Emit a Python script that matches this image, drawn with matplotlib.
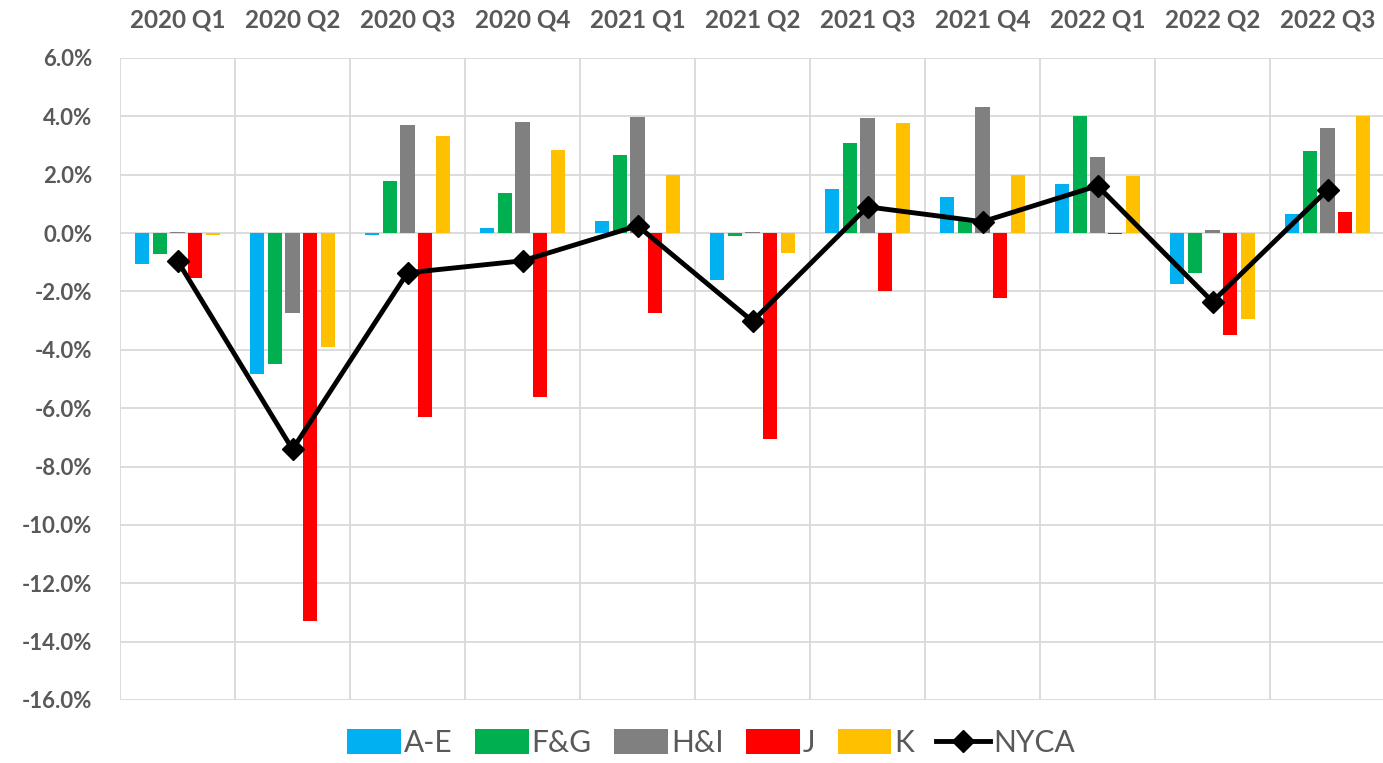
import matplotlib
matplotlib.use("Agg")
import matplotlib.pyplot as plt
import numpy as np
from matplotlib.ticker import FuncFormatter, FixedLocator

categories = ["2020 Q1", "2020 Q2", "2020 Q3", "2020 Q4", "2021 Q1", "2021 Q2",
              "2021 Q3", "2021 Q4", "2022 Q1", "2022 Q2", "2022 Q3"]
series_names = ["A-E", "F&G", "H&I", "J", "K"]
a_e = [-1.07, -4.82, -0.05, 0.19, 0.42, -1.62, 1.52, 1.24, 1.69, -1.76, 0.66]
f_g = [-0.70, -4.50, 1.79, 1.39, 2.66, -0.10, 3.09, 0.45, 4.02, -1.38, 2.80]
h_i = [0.05, -2.73, 3.69, 3.79, 3.97, 0.05, 3.95, 4.33, 2.60, 0.10, 3.61]
j_vals = [-1.53, -13.30, -6.30, -5.61, -2.75, -7.06, -1.99, -2.23, -0.03, -3.49, 0.71]
k_vals = [-0.08, -3.90, 3.34, 2.86, 2.00, -0.67, 3.78, 2.00, 1.96, -2.94, 4.02]
nyca = [-0.95, -7.41, -1.36, -0.95, 0.25, -3.02, 0.90, 0.39, 1.62, -2.35, 1.48]
colors = ["#00B0F0", "#00B050", "#808080", "#FF0000", "#FFC000"]

plt.rcParams['font.family'] = ['Lato', 'DejaVu Sans']
text_color = "#595959"

fig = plt.figure(figsize=(13.83, 7.63), dpi=100)
ax = fig.add_axes([120/1383, 1 - 700/763, 1265/1383, 642/763])

x = np.arange(len(categories))
pitch = 0.153
width = 0.122
all_series = [a_e, f_g, h_i, j_vals, k_vals]
handles = []
for i, (name, vals, c) in enumerate(zip(series_names, all_series, colors)):
    h = ax.bar(x + (i - 2) * pitch, vals, width=width, color=c, label=name, zorder=2)
    handles.append(h)

ln, = ax.plot(x, nyca, color="black", lw=3.5, marker="D", markersize=11, label="NYCA", zorder=3)
handles.append(ln)

ax.set_xlim(-0.5, len(categories) - 0.5)
ax.set_ylim(-16, 6)
ax.set_yticks(np.arange(-16, 6.1, 2))
ax.yaxis.set_major_formatter(FuncFormatter(lambda v, p: f"{v:.1f}%"))
ax.set_xticks(x)
ax.set_xticklabels(categories)
ax.xaxis.set_minor_locator(FixedLocator(np.arange(-0.5, len(categories), 1.0)))
ax.xaxis.tick_top()
ax.tick_params(axis='x', which='both', length=0, pad=19, labelsize=17.5, labelcolor=text_color)
ax.tick_params(axis='y', length=0, pad=20, labelsize=16, labelcolor=text_color)
for lab in ax.get_xticklabels() + ax.get_yticklabels():
    lab.set_fontweight("bold")

ax.grid(axis='y', which='major', color="#D9D9D9", lw=1.3, zorder=0)
ax.grid(axis='x', which='minor', color="#D9D9D9", lw=1.3, zorder=0)
ax.grid(axis='x', which='major', visible=False)
ax.set_axisbelow(True)
for s in ax.spines.values():
    s.set_visible(False)

leg = fig.legend(handles=handles, labels=series_names + ["NYCA"], loc="center",
                 bbox_to_anchor=(711/1383, 1 - 743/763), ncol=6,
                 frameon=False, fontsize=21.5, handlelength=1.8, handleheight=0.9,
                 columnspacing=0.75, handletextpad=0.1, labelcolor=text_color)

fig.savefig("out.png", dpi=100)
